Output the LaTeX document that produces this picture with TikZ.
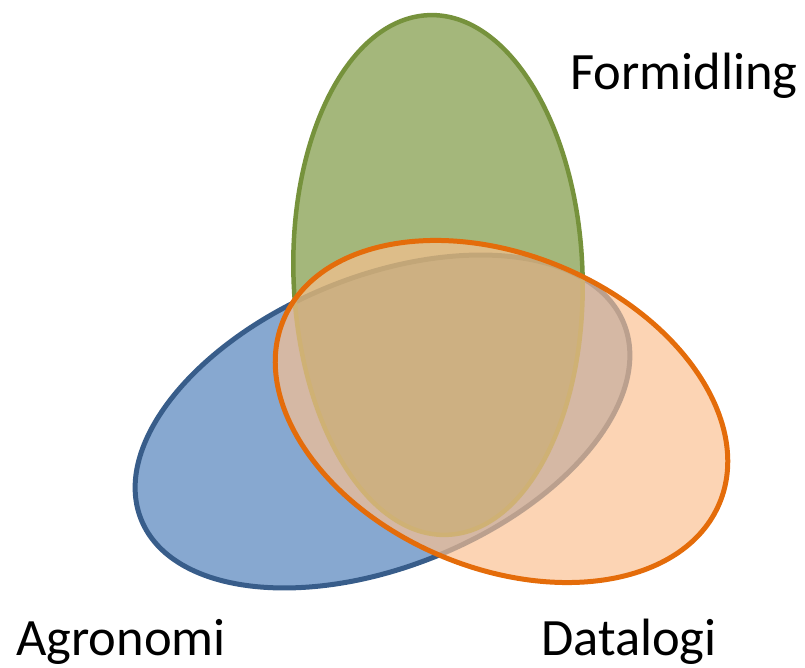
\documentclass[tikz,border=0pt]{standalone}
\usepackage{fontspec}
\setmainfont{Carlito}
\definecolor{blueFill}{RGB}{135,168,208}
\definecolor{blueLine}{RGB}{56,93,138}
\definecolor{greenFill}{RGB}{95,129,23}
\definecolor{greenLine}{RGB}{118,146,60}
\definecolor{orangeFill}{RGB}{250,192,144}
\definecolor{orangeLine}{RGB}{228,108,10}
\begin{document}
\begin{tikzpicture}[x=1pt,y=1pt,
  setlabel/.style={anchor=base west, inner sep=0pt, text=black,
    font=\fontsize{52.5}{60}\selectfont},
  agroset/.style={fill=blueFill, draw=blueLine, line width=5pt},
  formset/.style={fill=greenFill, fill opacity=0.57, draw=greenLine, draw opacity=1, line width=4.5pt},
  dataset/.style={fill=orangeFill, fill opacity=0.68, draw=orangeLine, draw opacity=1, line width=5pt}]
\useasboundingbox (0,0) rectangle (805,668);

% Agronomi (blue), tilted up to the right
\path[agroset, rotate around={22.2:(382.5,246.5)}]
  (382.5,246.5) ellipse [x radius=260.5, y radius=145];

% Formidling (green), nearly upright
\path[formset, rotate around={2:(438,393)}]
  (438,393) ellipse [x radius=144.5, y radius=260];

% Datalogi (orange), tilted down to the right
\path[dataset, rotate around={-22.9:(501.5,256.5)}]
  (501.5,256.5) ellipse [x radius=236.5, y radius=156.5];

% set labels
\node[setlabel] (formidling) at (570,578) {Formidling};
\node[setlabel] (agronomi) at (16,12.5) {Agronomi};
\node[setlabel] (datalogi) at (541,12.5) {Datalogi};
\end{tikzpicture}
\end{document}
